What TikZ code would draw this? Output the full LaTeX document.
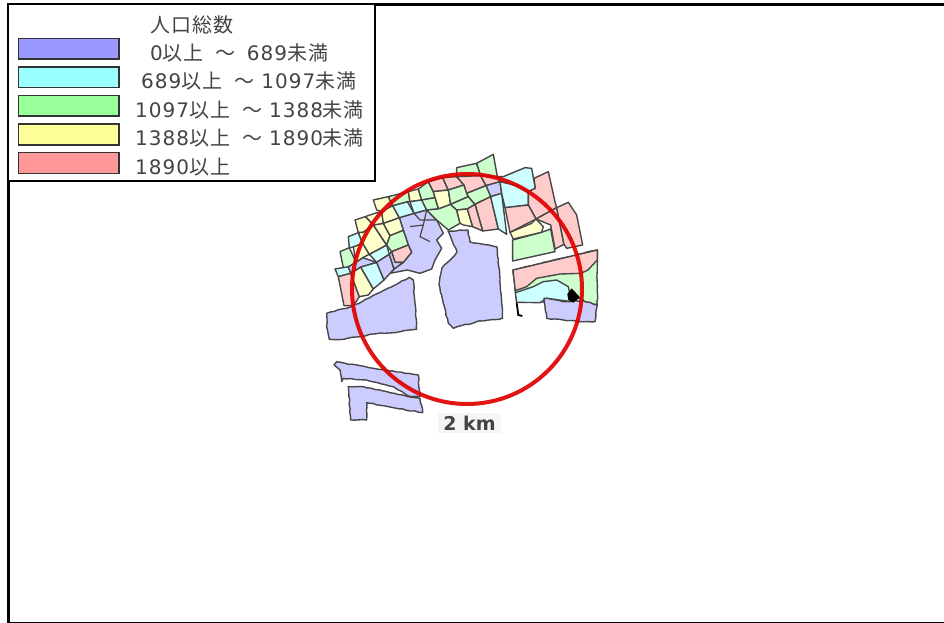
\documentclass[tikz,border=0pt]{standalone}
\usepackage{fontspec}
\usetikzlibrary{decorations.pathmorphing}
\setmainfont[LetterSpace=5]{Noto Sans CJK JP}
\newfontfamily\dgt[LetterSpace=5]{DejaVu Sans}
\newfontfamily\labelfont{DejaVu Sans}
\newcommand{\dg}[1]{{\dgt #1}}
\definecolor{lavS}{HTML}{9999FF}\definecolor{cyaS}{HTML}{99FFFF}\definecolor{greS}{HTML}{99FF99}\definecolor{yelS}{HTML}{FFFF99}\definecolor{pinS}{HTML}{FF9999}
\definecolor{lav}{HTML}{CCCCFF}\definecolor{cya}{HTML}{CCFFFF}\definecolor{gre}{HTML}{CCFFCC}\definecolor{yel}{HTML}{FFFFCC}\definecolor{pin}{HTML}{FFCCCC}
\definecolor{txt}{HTML}{444444}
\tikzset{
  swatch/.style={draw=black!80,line width=1.1pt},
  legtext/.style={anchor=west,inner sep=0pt,text=txt,font=\fontsize{20}{20}\selectfont},
  z1/.style={shift={(320,145)},x=0.3333pt,y=-0.3333pt},
  z2/.style={shift={(460,145)},x=0.3333pt,y=-0.3333pt},
  z3/.style={shift={(320,270)},x=0.3333pt,y=-0.3333pt},
  parcel/.style={draw=black!72,line width=1.4pt,line join=round},
  jag/.style={parcel,decorate,decoration={random steps,segment length=4pt,amplitude=.5pt}},
  mapline/.style={draw=black!72,line width=1.2pt,line join=round},
}
\newcommand{\cellp}[2]{\filldraw[parcel,fill=#1] #2 -- cycle;}
\newcommand{\cellj}[2]{\filldraw[jag,fill=#1] #2 -- cycle;}
\begin{document}
\begin{tikzpicture}[x=1pt,y=-1pt]
\useasboundingbox (0,0) rectangle (944,623);
\fill[white] (0,0) rectangle (944,623);
% frame
\draw[black,line width=3pt] (8.5,4) -- (8.5,623);
\draw[black,line width=2.7pt] (8,4.6) -- (944,4.6);
\draw[black,line width=1.3pt] (8,622.3) -- (944,622.3);
% upper-left cells
\begin{scope}[z1]
\cellp{lav}{(238,218)--(282,205)--(320,195)--(350,225)--(370,265)--(350,285)--(365,310)--(345,345)--(335,372)--(300,385)--(262,375)--(210,385)--(222,372)--(250,352)--(275,322)--(265,300)--(250,256)}
\draw[mapline] (282,205)--(300,225)--(350,225) (270,245)--(310,240)--(300,275)--(330,290) (320,195)--(310,240);
\cellp{cya}{(45,372)--(85,365)--(92,385)--(55,395)}
\cellp{pin}{(55,395)--(92,385)--(118,455)--(100,482)--(72,482)}
\cellp{yel}{(92,385)--(122,366)--(160,432)--(145,450)--(118,455)}
\cellp{cya}{(122,366)--(170,352)--(192,405)--(160,432)}
\cellp{lav}{(85,365)--(108,352)--(128,338)--(170,352)--(122,366)--(92,385)}
\cellp{gre}{(60,320)--(88,308)--(108,352)--(85,365)--(70,368)}
\cellp{cya}{(85,275)--(115,263)--(128,295)--(100,306)--(88,308)}
\cellp{yel}{(100,306)--(128,295)--(148,328)--(128,338)--(108,352)}
\cellp{cya}{(148,328)--(200,300)--(208,328)--(170,352)}
\cellp{lav}{(170,352)--(208,328)--(222,372)--(192,405)}
\cellp{yel}{(105,225)--(135,215)--(140,218)--(160,240)--(130,262)--(115,263)}
\cellp{yel}{(130,262)--(160,240)--(200,300)--(148,328)--(128,295)--(115,263)}
\cellp{yel}{(160,240)--(190,235)--(210,272)--(200,300)}
\cellp{yel}{(190,235)--(238,218)--(250,256)--(210,272)}
\cellp{gre}{(210,272)--(250,256)--(265,300)--(215,320)--(200,300)}
\cellp{pin}{(215,320)--(265,300)--(275,322)--(250,352)--(225,352)}
\cellp{lav}{(208,328)--(215,320)--(225,352)--(250,352)--(222,372)}
\cellp{yel}{(160,165)--(205,155)--(218,182)--(185,200)--(170,195)}
\cellp{yel}{(135,215)--(165,205)--(185,200)--(190,235)--(160,240)--(140,218)}
\cellp{yel}{(185,200)--(218,182)--(238,218)--(190,235)}
\cellp{cya}{(218,182)--(262,170)--(282,205)--(238,218)}
\cellp{gre}{(205,155)--(265,140)--(270,170)--(262,170)--(218,182)}
\cellp{yel}{(265,140)--(295,132)--(305,165)--(270,170)}
\cellp{cya}{(270,170)--(305,165)--(320,195)--(282,205)}
\cellp{gre}{(295,132)--(325,110)--(340,140)--(345,158)--(305,165)}
\cellp{pin}{(325,110)--(368,98)--(385,135)--(340,140)}
\cellp{pin}{(368,98)--(410,95)--(432,120)--(385,135)}
\cellp{yel}{(345,158)--(340,140)--(385,135)--(392,178)--(355,192)}
\cellp{gre}{(385,135)--(432,120)--(445,155)--(392,178)}
\cellp{gre}{(305,165)--(345,158)--(355,192)--(320,195)}
\cellp{gre}{(355,192)--(392,178)--(410,195)--(420,235)--(385,255)--(350,225)--(320,195)}
\cellp{gre}{(392,178)--(445,155)--(465,178)--(442,192)--(410,195)}
\cellp{yel}{(410,195)--(442,192)--(458,245)--(430,240)--(420,235)}
\end{scope}
% upper-right cells
\begin{scope}[z2]
\cellp{gre}{(-10,68)--(50,55)--(62,92)--(-10,95)}
\cellp{gre}{(50,55)--(100,28)--(112,95)--(62,92)}
\cellp{pin}{(-10,95)--(62,92)--(78,122)--(20,145)--(12,120)}
\cellp{pin}{(62,92)--(112,95)--(120,110)--(78,122)}
\cellp{lav}{(78,122)--(120,110)--(125,145)--(92,155)}
\cellp{gre}{(20,145)--(78,122)--(92,155)--(45,178)--(25,155)}
\cellp{pin}{(45,178)--(92,155)--(115,252)--(68,258)}
\cellp{pin}{(22,192)--(45,178)--(68,258)--(38,245)}
\cellp{cya}{(92,155)--(125,145)--(140,268)--(115,252)}
\cellp{cya}{(112,95)--(130,95)--(195,68)--(215,70)--(226,130)--(205,140)--(170,122)--(120,110)}
\cellp{cya}{(120,110)--(170,122)--(205,140)--(205,180)--(135,188)--(125,145)}
\cellp{pin}{(222,100)--(265,80)--(285,170)--(290,188)--(228,222)--(205,180)--(205,140)--(226,130)}
\cellp{pin}{(135,188)--(205,180)--(228,222)--(150,262)}
\cellp{pin}{(228,222)--(290,188)--(312,298)--(285,312)--(272,240)}
\cellp{pin}{(290,188)--(325,172)--(350,210)--(368,300)--(320,310)--(312,298)}
\cellp{yel}{(150,262)--(215,235)--(228,222)--(250,245)--(245,262)--(160,282)}
\cellp{gre}{(158,285)--(245,262)--(272,252)--(285,320)--(158,348)}
\end{scope}
% lavender parcels and south-east block
\begin{scope}[z3]
\cellj{lav}{(20,130)--(95,110)--(268,22)--(280,30)--(285,100)--(290,178)--(240,185)--(160,192)--(70,208)--(28,208)--(20,170)}
\cellj{lav}{(42,285)--(50,275)--(160,295)--(295,315)--(300,380)--(265,378)--(220,350)--(140,330)--(70,325)--(65,335)--(60,300)}
\cellj{lav}{(85,350)--(130,350)--(265,380)--(300,385)--(308,428)--(230,415)--(140,398)--(140,450)--(92,450)}
\cellj{lav}{(384,-117)--(444,-120)--(450,-84)--(531,-69)--(540,24)--(545,90)--(548,145)--(470,155)--(400,175)--(385,160)--(370,100)--(357,45)--(366,-6)--(396,-36)--(411,-54)}
% south-east block
\filldraw[jag,fill=gre] (579,0)--(832,-60)--(832,105)--(790,95)--(590,95)--cycle;
\filldraw[parcel,fill=cya] (586,68)--(640,50)--(670,35)--(710,30)--(745,50)--(750,75)--(790,90)--(770,97)--(680,85)--(660,98)--(590,97)--cycle;
\filldraw[parcel,fill=pin] (579,0)--(832,-60)--(832,-30)--(804,0)--(783,10)--(720,12)--(650,25)--(620,50)--(586,62)--cycle;
\filldraw[jag,fill=lav] (672,85)--(680,145)--(780,155)--(825,155)--(832,105)--(790,92)--(740,95)--cycle;
\fill[black] (742,72)--(755,55)--(780,82)--(760,98)--(745,90)--cycle;
\draw[black,line width=1.8pt] (590,98)--(595,135)--(607,138);
\end{scope}
% circle
\draw[draw=red!88!black,line width=4pt,opacity=.92] (467,289) circle (115);
% scale label
\node[name=scalelabel,fill=black!4,inner xsep=5pt,inner ysep=3pt,text=txt,font=\labelfont\bfseries\fontsize{19}{19}\selectfont] at (469.5,423) {2 km};
% legend
\filldraw[draw=black,line width=1.4pt,fill=white] (8,4) rectangle (375,181);
\filldraw[swatch,fill=lavS] (18.5,38.5) rectangle (119,59);
\filldraw[swatch,fill=cyaS] (18.5,67) rectangle (119,87.5);
\filldraw[swatch,fill=greS] (18.5,95.5) rectangle (119,116);
\filldraw[swatch,fill=yelS] (18.5,124) rectangle (119,145);
\filldraw[swatch,fill=pinS] (18.5,152.5) rectangle (119,173.5);
\node[legtext,name=legtitle] at (150,25) {人口総数};
\node[legtext,name=leg1] at (150,53) {\dg{0}以上\hspace{12pt}～\hspace{11pt}\dg{689}未満};
\node[legtext,name=leg2] at (141,81) {\dg{689}以上\hspace{12pt}～\hspace{7pt}\dg{1097}未満};
\node[legtext,name=leg3] at (135,110) {\dg{1097}以上\hspace{12pt}～\hspace{7pt}\dg{1388}未満};
\node[legtext,name=leg4] at (135,138) {\dg{1388}以上\hspace{12pt}～\hspace{7pt}\dg{1890}未満};
\node[legtext,name=leg5] at (135,167) {\dg{1890}以上};
\end{tikzpicture}
\end{document}
